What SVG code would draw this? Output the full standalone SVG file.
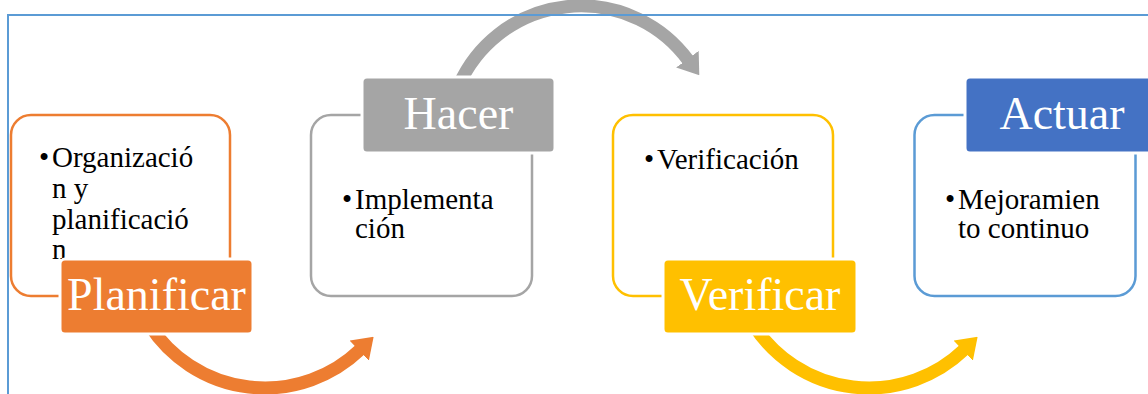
<svg xmlns="http://www.w3.org/2000/svg" width="1148" height="394" viewBox="0 0 1148 394">
  <style>
    .box { fill: #FFFFFF; stroke-width: 2.5; }
    .lbl { stroke: #FFFFFF; stroke-width: 3; }
    .body { font-family: "Liberation Serif", "Times New Roman", serif; font-size: 29px; fill: #000000; }
    .head { font-family: "Liberation Serif", "Times New Roman", serif; font-size: 46px; fill: #FFFFFF; text-anchor: middle; }
    .arc { fill: none; stroke-width: 13; }
  </style>
  <defs>
    <marker id="mOrange" markerUnits="userSpaceOnUse" viewBox="0 0 20 28" markerWidth="20" markerHeight="28" refX="1" refY="14" orient="auto">
      <path d="M0,0 L20,14 L0,28 Z" fill="#ED7D31"/>
    </marker>
    <marker id="mGray" markerUnits="userSpaceOnUse" viewBox="0 0 20 28" markerWidth="20" markerHeight="28" refX="1" refY="14" orient="auto">
      <path d="M0,0 L20,14 L0,28 Z" fill="#A5A5A5"/>
    </marker>
    <marker id="mYellow" markerUnits="userSpaceOnUse" viewBox="0 0 20 28" markerWidth="20" markerHeight="28" refX="1" refY="14" orient="auto">
      <path d="M0,0 L20,14 L0,28 Z" fill="#FFC000"/>
    </marker>
  </defs>

  <g id="connectors">
    <path class="arc" stroke="#ED7D31" d="M149.5,325 A137.4,137.4 0 0 0 359.9,349.9" marker-end="url(#mOrange)"/>
    <path class="arc" stroke="#A5A5A5" d="M459,85 A133.3,133.3 0 0 1 688,60" marker-end="url(#mGray)"/>
    <path class="arc" stroke="#FFC000" d="M753.5,325 A137.4,137.4 0 0 0 963.9,349.9" marker-end="url(#mYellow)"/>
  </g>

  <g id="node-planificar">
    <rect class="box" x="11" y="115" width="219" height="181" rx="20" stroke="#ED7D31"/>
    <text class="body"><tspan x="39" y="167">•</tspan><tspan x="52" y="167">Organizació</tspan><tspan x="52" y="198">n y</tspan><tspan x="52" y="229">planificació</tspan><tspan x="52" y="259">n</tspan></text>
    <rect class="lbl" x="60" y="259" width="193" height="75" rx="5" fill="#ED7D31"/>
    <text class="head" x="156.5" y="310">Planificar</text>
  </g>

  <g id="node-hacer">
    <rect class="box" x="311" y="115" width="221" height="181" rx="20" stroke="#A5A5A5"/>
    <text class="body"><tspan x="342" y="209">•</tspan><tspan x="355" y="209">Implementa</tspan><tspan x="355" y="238">ción</tspan></text>
    <rect class="lbl" x="362" y="77" width="193" height="76" rx="5" fill="#A5A5A5"/>
    <text class="head" x="458.5" y="129">Hacer</text>
  </g>

  <g id="node-verificar">
    <rect class="box" x="613" y="115" width="220" height="181" rx="20" stroke="#FFC000"/>
    <text class="body"><tspan x="644" y="169">•</tspan><tspan x="657" y="169">Verificación</tspan></text>
    <rect class="lbl" x="663" y="259" width="194" height="75" rx="5" fill="#FFC000"/>
    <text class="head" x="760" y="310">Verificar</text>
  </g>

  <g id="node-actuar">
    <rect class="box" x="914.5" y="115" width="221" height="181" rx="20" stroke="#5B9BD5"/>
    <text class="body"><tspan x="945" y="209">•</tspan><tspan x="958" y="209">Mejoramien</tspan><tspan x="958" y="238">to continuo</tspan></text>
    <rect class="lbl" x="965" y="77" width="194" height="76" rx="5" fill="#4472C4"/>
    <text class="head" x="1062" y="129">Actuar</text>
  </g>

  <rect id="frame" x="8" y="15" width="1160" height="400" fill="none" stroke="#5B9BD5" stroke-width="2"/>
</svg>
